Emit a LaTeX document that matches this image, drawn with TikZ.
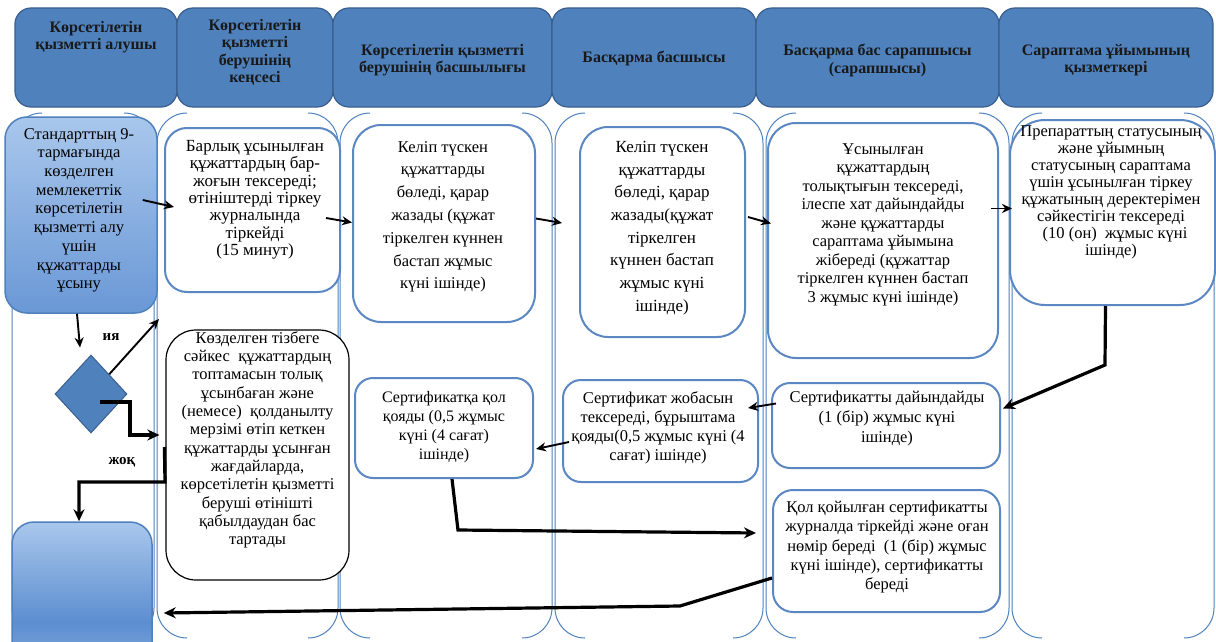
\documentclass[tikz,border=0pt]{standalone}
\usepackage{fontspec}
\setmainfont{Liberation Serif}
\usetikzlibrary{shapes.geometric,arrows.meta,calc}

\definecolor{hdrfill}{HTML}{4F81BD}
\definecolor{hdrdraw}{HTML}{3A5F8F}
\definecolor{lanecol}{HTML}{4F81BD}
\definecolor{boxdraw}{HTML}{5B87C2}
\definecolor{startTop}{HTML}{A9C7EC}
\definecolor{startBot}{HTML}{6A98D6}
\definecolor{endMid}{HTML}{5C8ED0}

\begin{document}
\begin{tikzpicture}[x=1pt,y=-1pt,
  hdr/.style={draw=hdrdraw, fill=hdrfill, line width=1.2pt, rounded corners=16pt, inner sep=0pt},
  hdrtxt/.style={font=\fontsize{16}{17.5}\selectfont\bfseries, align=center, inner sep=0pt, anchor=north, text=black!90},
  lane/.style={draw=lanecol, line width=1pt},
  pbox/.style={draw=boxdraw, line width=2pt, fill=white, rounded corners=22pt, inner sep=0pt},
  bluebox/.style={draw=hdrfill, line width=1.5pt, top color=startTop, bottom color=startBot, rounded corners=22pt, inner sep=0pt},
  rejbox/.style={draw=black, line width=1.2pt, fill=white, rounded corners=30pt, inner sep=0pt},
  btxt/.style={align=center, inner sep=0pt, anchor=north},
  thinarr/.style={-{Stealth[length=10pt,width=9pt]}, line width=1.9pt},
  thickarr/.style={-{Stealth[length=12pt,width=11pt]}, line width=3.2pt},
  lbl/.style={font=\fontsize{15}{16}\selectfont\bfseries, inner sep=0pt}
]
\useasboundingbox (0,0) rectangle (1216,642);
\clip (0,0) rectangle (1216,642);
\fill[white] (0,0) rectangle (1216,642);

% swim lanes
\foreach \l/\r in {12/154, 157/338, 340/552, 555/763, 766/1009, 1012/1214}{
  \draw[lane, rounded corners=30pt] ({\l+30},113) -- (\l,113) -- (\l,638) -- ({\l+30},638);
  \draw[lane, rounded corners=30pt] ({\r-30},113) -- (\r,113) -- (\r,638) -- ({\r-30},638);
}

% headers
\node[hdr, minimum width=162pt, minimum height=99pt] (h1) at (96,57.5) {};
\node[hdr, minimum width=156pt, minimum height=99pt] (h2) at (255,57.5) {};
\node[hdr, minimum width=219pt, minimum height=99pt] (h3) at (442.5,57.5) {};
\node[hdr, minimum width=204pt, minimum height=99pt] (h4) at (654,57.5) {};
\node[hdr, minimum width=243pt, minimum height=99pt] (h5) at (877.5,57.5) {};
\node[hdr, minimum width=214pt, minimum height=99pt] (h6) at (1106,57.5) {};
\node[hdrtxt] (h1t) at (96,21) {Көрсетілетін\\қызметті алушы};
\node[hdrtxt] (h2t) at (255,19) {Көрсетілетін\\қызметті\\берушінің\\кеңсесі};
\node[hdrtxt] (h3t) at (442.5,44) {Көрсетілетін қызметті\\берушінің басшылығы};
\node[hdrtxt] (h4t) at (654,51) {Басқарма басшысы};
\node[hdrtxt] (h5t) at (877.5,44) {Басқарма бас сарапшысы\\(сарапшысы)};
\node[hdrtxt] (h6t) at (1106,44) {Сараптама ұйымының\\қызметкері};

% process boxes
\node[bluebox, minimum width=152pt, minimum height=196pt] (b1) at (81,215) {};
\node[pbox, minimum width=175pt, minimum height=164pt] (b2) at (252.5,210) {};
\node[pbox, rounded corners=28pt, minimum width=182pt, minimum height=197pt] (b3) at (444,223.5) {};
\node[pbox, rounded corners=28pt, minimum width=165pt, minimum height=210pt] (b4) at (662.5,232) {};
\node[pbox, rounded corners=28pt, minimum width=230pt, minimum height=235pt] (b5) at (883,240.5) {};
\node[pbox, rounded corners=35pt, minimum width=205pt, minimum height=185pt] (b6) at (1112.5,212.5) {};
\node[rejbox, minimum width=183pt, minimum height=250pt] (rj) at (257.5,455) {};
\node[pbox, rounded corners=18pt, minimum width=178pt, minimum height=100pt] (b10) at (444,428) {};
\node[pbox, rounded corners=18pt, minimum width=195pt, minimum height=102pt] (b9) at (660.5,431) {};
\node[pbox, rounded corners=18pt, minimum width=228pt, minimum height=85pt] (b7) at (886,425.5) {};
\node[pbox, rounded corners=20pt, minimum width=227pt, minimum height=122pt] (b8) at (886.5,551) {};
\node[draw=hdrfill, line width=1.5pt, top color=startTop, bottom color=startTop, middle color=endMid, rounded corners=22pt, minimum width=140pt, minimum height=200pt, inner sep=0pt] (eb) at (82,622) {};
\node[diamond, draw=hdrdraw, fill=hdrfill, line width=1pt, minimum width=72pt, minimum height=78pt, inner sep=0pt] (dm) at (91,394) {};

% texts
\node[btxt, font=\fontsize{16.5}{18.7}\selectfont] (t1) at (79,128) {Стандарттың 9-\\тармағында\\көзделген\\мемлекеттік\\көрсетілетін\\қызметті алу\\үшін\\құжаттарды\\ұсыну};
\node[btxt, font=\fontsize{17}{17.4}\selectfont] (t2) at (255,140) {Барлық ұсынылған\\құжаттардың бар-\\жоғын тексереді;\\өтініштерді тіркеу\\журналында\\тіркейді\\(15 минут)};
\node[btxt, font=\fontsize{16.5}{22.8}\selectfont] (t3) at (443,141) {Келіп түскен\\құжаттарды\\бөледі, қарар\\жазады (құжат\\тіркелген күннен\\бастап жұмыс\\күні ішінде)};
\node[btxt, font=\fontsize{17}{22.7}\selectfont] (t4) at (662,141) {Келіп түскен\\құжаттарды\\бөледі, қарар\\жазады(құжат\\тіркелген\\күннен бастап\\жұмыс күні\\ішінде)};
\node[btxt, font=\fontsize{16.5}{18.5}\selectfont] (t5) at (883,143) {Ұсынылған\\құжаттардың\\толықтығын тексереді,\\ілеспе хат дайындайды\\және құжаттарды\\сараптама ұйымына\\жібереді (құжаттар\\тіркелген күннен бастап\\3 жұмыс күні ішінде)};
\node[btxt, font=\fontsize{16.5}{17.1}\selectfont] (t6) at (1111,125) {Препараттың статусының\\және ұйымның\\статусының сараптама\\үшін ұсынылған тіркеу\\құжатының деректерімен\\сәйкестігін тексереді\\\hspace*{8pt}(10 (он)~~жұмыс күні\\ішінде)};
\node[btxt, font=\fontsize{16.5}{18.36}\selectfont] (rjt) at (257.5,331) {Көзделген тізбеге\\сәйкес~~құжаттардың\\топтамасын толық\\ұсынбаған және\\(немесе)~~қолданылту\\мерзімі өтіп кеткен\\құжаттарды ұсынған\\жағдайларда,\\көрсетілетін қызметті\\беруші өтінішті\\қабылдаудан бас\\тартады};
\node[btxt, font=\fontsize{16}{19}\selectfont] (t10) at (444,391) {Сертификатқа қол\\қояды (0,5 жұмыс\\күні (4 сағат)\\ішінде)};
\node[btxt, font=\fontsize{16.5}{19}\selectfont] (t9) at (658,391) {Сертификат жобасын\\тексереді, бұрыштама\\қояды(0,5 жұмыс күні (4\\сағат) ішінде)};
\node[btxt, font=\fontsize{16.5}{20}\selectfont] (t7) at (887,391) {Сертификатты дайындайды\\(1 (бір) жұмыс күні\\ішінде)};
\node[btxt, font=\fontsize{16.5}{19.25}\selectfont] (t8) at (887,501) {Қол қойылған сертификатты\\журналда тіркейді және оған\\нөмір береді~~(1 (бір) жұмыс\\күні ішінде), сертификатты\\береді};

% labels
\node[lbl] (ya) at (111,337) {ия};
\node[lbl] (jok) at (122,462) {жоқ};

% connectors
\draw[thinarr] ([shift={(-15,-15)}]b1.east) -- ([shift={(10,-3)}]b2.west);
\draw[thinarr] ([shift={(-15,8)}]b2.east) -- ([shift={(0,-1)}]b3.west);
\draw[thinarr] ([shift={(0,-5)}]b3.east) -- ([shift={(-17,-9)}]b4.west);
\draw[thinarr] ([shift={(2,-15)}]b4.east) -- ([shift={(4,-17)}]b5.west);
\draw[thinarr] ([shift={(-8,-32)}]b5.east) -- ([shift={(3,-4)}]b6.west);
\coordinate (k1) at (1105,365);
\draw[thickarr] ([shift={(-7,0)}]b6.south) -- (k1) -- ([shift={(2,-17)}]b7.east);
\draw[thinarr] ([shift={(5,-22)}]b7.west) -- ([shift={(-11,-23)}]b9.east);
\draw[thinarr] ([shift={(7,11)}]b9.west) -- ([shift={(2,21)}]b10.east);
\coordinate (k2) at (458,530);
\draw[thickarr] ([shift={(8,0)}]b10.south) -- (k2) -- ([shift={(-16,-18)}]b8.west);
\coordinate (k3) at (680,606);
\draw[thickarr] ([shift={(0,27)}]b8.west) -- (k3) -- ([shift={(11,-9)}]eb.east);
\draw[thinarr] ([shift={(-4,0)}]b1.south) -- ([shift={(-11,-7)}]dm.north);
\draw[thinarr] (dm.north east) -- ([shift={(-5,26)}]b2.south west);
\coordinate (k4) at (130,402);
\coordinate (k5) at (130,435);
\draw[thickarr] ([shift={(9,8)}]dm.center) -- (k4) -- (k5) -- ([shift={(-6,-20)}]rj.west);
\coordinate (k6) at (165,482);
\coordinate (k7) at (79,482);
\draw[thickarr] ([shift={(-1,-8)}]rj.west) -- (k6) -- (k7) -- ([shift={(-3,0)}]eb.north);
\end{tikzpicture}
\end{document}
